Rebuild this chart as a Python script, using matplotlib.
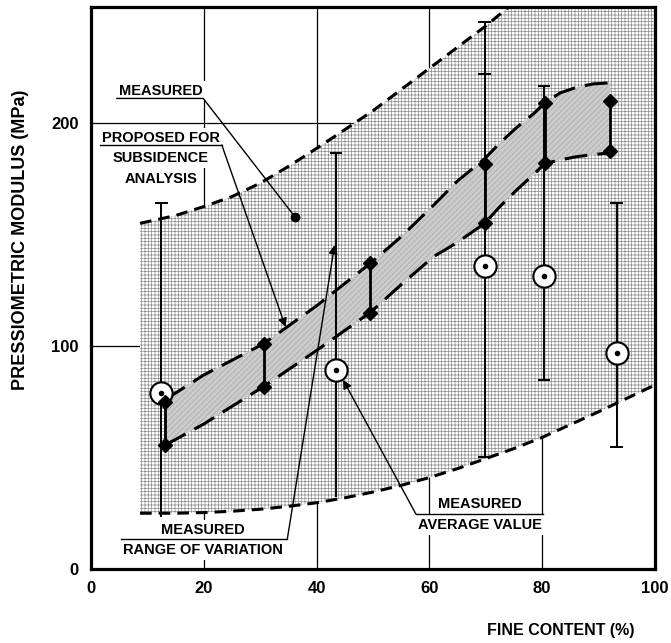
import matplotlib
matplotlib.use("Agg")
import matplotlib.pyplot as plt
from matplotlib import font_manager

# envelope of the measured range of variation (dashed curves)
env_x = [8.7, 15, 20, 25, 30, 35, 40, 45, 50, 55, 60, 65, 70, 75, 80, 90, 100]
env_upper = [155, 158.5, 162.5, 167, 173, 180.5, 188.6, 197, 205.5, 215, 224.5, 234, 243.5, 254, 265, 287, 310]
env_lower = [25, 25, 25.3, 25.9, 26.8, 28.1, 29.7, 31.9, 34.5, 37.5, 41, 45, 49.5, 54, 59, 70.5, 82.5]

# band proposed for subsidence analysis
band_x = [13.2, 20, 30.6, 40, 49.5, 55, 60.7, 65, 69.8, 72.5, 75.5, 78.4, 80.5, 83.2, 86.1, 89, 92.1]
band_upper = [76, 87, 101, 118, 137, 149, 163, 174, 184, 191, 198, 204, 209, 213.5, 216, 217.5, 218]
band_lower = [55.6, 65, 81.8, 98, 115, 127.5, 140, 146.5, 155, 162.5, 170, 176.7, 181.9, 183.4, 184.9, 185.8, 186.6]

# proposed values (diamonds)
dia_x = [13.2, 30.6, 49.5, 69.8, 80.5, 92.1]
dia_upper = [75, 101, 137, 181.8, 209, 210]
dia_lower = [55.6, 81.8, 115, 155, 182, 187.6]

# measured range and average value
err_x = [12.5, 43.4, 69.8, 80.3, 93.2]
err_high = [164, 186.7, 245.4, 216.6, 164.2]
err_low = [23.5, 32.4, 50, 84.8, 54.8]
err_mean = [78.8, 89.2, 136, 131.4, 97]
err_lowcap = [False, False, True, True, True]
extra_cap_x = [69.8]
extra_cap_y = [222]

measured_pt = (36.2, 157.8)

x_ticks = [0, 20, 40, 60, 80, 100]
y_ticks = [0, 100, 200]

names = {f.name for f in font_manager.fontManager.ttflist}
if "Liberation Sans Narrow" in names:
    ann_font, ann_size = "Liberation Sans Narrow", 12.5
else:
    ann_font, ann_size = "Liberation Sans", 10.5

plt.rcParams["font.family"] = ["Liberation Sans", "DejaVu Sans"]
plt.rcParams["hatch.linewidth"] = 0.5

fig = plt.figure(figsize=(6.71, 6.43), dpi=100)
ax = fig.add_axes([0.1356, 0.1151, 0.8405, 0.8740])
ax.set_xlim(0, 100)
ax.set_ylim(0, 252)

ax.set_xticks(x_ticks)
ax.set_yticks(y_ticks)
ax.tick_params(length=0, pad=9, labelsize=12)
for lab in ax.get_xticklabels() + ax.get_yticklabels():
    lab.set_fontweight("bold")
ax.grid(True, color="black", lw=0.9)
ax.set_axisbelow(True)
for sp in ax.spines.values():
    sp.set_linewidth(2.3)
    sp.set_zorder(10)

# hatched areas
ax.fill_between(env_x, env_lower, env_upper, facecolor="white", edgecolor="#8c8c8c",
                hatch="+++++", linewidth=0, zorder=1)
ax.fill_between(band_x, band_lower, band_upper, facecolor="#cccccc", edgecolor="#a6a6a6",
                hatch="//////", linewidth=0, zorder=2)

# dashed curves
ax.plot(env_x, env_upper, color="black", lw=2.2, ls=(0, (3.8, 2.3)), zorder=3)
ax.plot(env_x, env_lower, color="black", lw=2.2, ls=(0, (3.8, 2.3)), zorder=3)
ax.plot(band_x, band_upper, color="black", lw=2.2, ls=(0, (7.5, 3.3)), zorder=4)
ax.plot(band_x, band_lower, color="black", lw=2.2, ls=(0, (7.5, 3.3)), zorder=4)

# measured ranges
ax.vlines(err_x, err_low, err_high, color="black", lw=1.4, zorder=5)
ax.hlines(err_high, [x - 1.1 for x in err_x], [x + 1.1 for x in err_x], color="black", lw=1.4, zorder=5)
for x, y, cap in zip(err_x, err_low, err_lowcap):
    if cap:
        ax.hlines(y, x - 1.1, x + 1.1, color="black", lw=1.4, zorder=5)
ax.hlines(extra_cap_y, [x - 1.1 for x in extra_cap_x], [x + 1.1 for x in extra_cap_x],
          color="black", lw=1.4, zorder=5)
ax.plot(err_x, err_mean, "o", ms=16, mfc="white", mec="black", mew=1.5, zorder=6)
ax.plot(err_x, err_mean, "o", ms=3, color="black", zorder=6)

# proposed values
ax.vlines(dia_x, dia_lower, dia_upper, color="black", lw=2, zorder=7)
ax.plot(dia_x, dia_upper, "D", ms=7.5, color="black", zorder=7)
ax.plot(dia_x, dia_lower, "D", ms=7.5, color="black", zorder=7)

ax.plot(*measured_pt, "o", ms=6, color="black", zorder=7)

# annotations
box = dict(boxstyle="square,pad=0.2", fc="white", ec="none")
tkw = dict(ha="center", va="center", fontsize=ann_size, fontweight="bold",
           family=[ann_font, "DejaVu Sans"], zorder=8, bbox=box)

ax.text(12.4, 214.3, "MEASURED", **tkw)
ax.plot([4.6, 19.9, measured_pt[0]], [211, 211, measured_pt[1]], color="black", lw=1, zorder=8)

ax.text(12.4, 193.4, "PROPOSED FOR", **tkw)
ax.text(12.4, 184.3, "SUBSIDENCE", **tkw)
ax.text(12.4, 174.9, "ANALYSIS", **tkw)
ax.plot([1.6, 23.2], [190.1, 190.1], color="black", lw=1, zorder=8)
ax.annotate("", xy=(34.5, 108.5), xytext=(23.2, 190.1),
            arrowprops=dict(arrowstyle="-|>", color="black", lw=1, mutation_scale=13,
                            shrinkA=0, shrinkB=0), zorder=8)

ax.text(19.8, 17.5, "MEASURED", **tkw)
ax.text(19.8, 8.5, "RANGE OF VARIATION", **tkw)
ax.plot([5.4, 34.8], [13.3, 13.3], color="black", lw=1, zorder=8)
ax.annotate("", xy=(43.2, 145.3), xytext=(34.8, 13.3),
            arrowprops=dict(arrowstyle="-|>", color="black", lw=1, mutation_scale=13,
                            shrinkA=0, shrinkB=0), zorder=8)

ax.text(69, 29.3, "MEASURED", **tkw)
ax.text(69, 19.6, "AVERAGE VALUE", **tkw)
ax.plot([57.6, 80.1], [24.7, 24.7], color="black", lw=1, zorder=8)
ax.annotate("", xy=(44.7, 84.8), xytext=(57.6, 24.7),
            arrowprops=dict(arrowstyle="-|>", color="black", lw=1, mutation_scale=13,
                            shrinkA=0, shrinkB=0), zorder=8)

fig.text(0.030, 0.627, "PRESSIOMETRIC MODULUS (MPa)", rotation=90, ha="center", va="center",
         fontsize=13, fontweight="bold")
fig.text(0.836, 0.020, "FINE CONTENT (%)", ha="center", va="center",
         fontsize=11.5, fontweight="bold")

fig.savefig("out.png", dpi=100)
